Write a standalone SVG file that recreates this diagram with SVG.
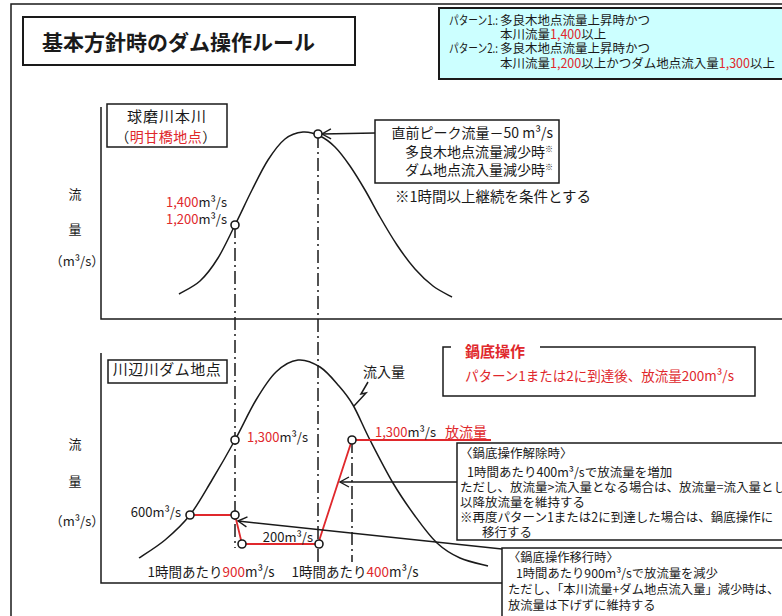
<svg xmlns="http://www.w3.org/2000/svg" width="782" height="616" viewBox="0 0 782 616">
<style>
text{font-family:"Noto Sans CJK JP","Noto Sans",sans-serif;fill:#1a1a1a}
.r{fill:#e0282c}
.t13{font-size:13px}
.t14{font-size:14px}
.t12{font-size:12.5px}
.ln{fill:none;stroke:#1a1a1a;stroke-width:1.5}
.dd{fill:none;stroke:#1a1a1a;stroke-width:1.5;stroke-dasharray:13,4,2,4}
.red{fill:none;stroke:#e0282c;stroke-width:1.8}
.pt{fill:#fff;stroke:#1a1a1a;stroke-width:1.6}
.box{fill:#fff;stroke:#1a1a1a;stroke-width:1.5}
.sup{font-size:8px}
</style>
<defs>
<marker id="ah" markerUnits="userSpaceOnUse" markerWidth="12" markerHeight="12" refX="10" refY="6" orient="auto">
<path d="M1,1 L10,6 L1,11" fill="none" stroke="#1a1a1a" stroke-width="1.4"/>
</marker>
</defs>
<rect x="0" y="0" width="782" height="616" fill="#fff"/>
<g id="frame">
<rect x="11" y="4" width="800" height="640" fill="none" stroke="#1a1a1a" stroke-width="1.5"/>
</g>
<g id="title">
<rect x="23" y="17" width="332" height="48" fill="#fff" stroke="#1a1a1a" stroke-width="2"/>
<text x="42" y="50" style="font-size:21px;font-weight:bold">基本方針時のダム操作ルール</text>
</g>
<g id="patterns">
<rect x="439" y="8" width="360" height="71" fill="#ccffff" stroke="#1a1a1a" stroke-width="2"/>
<text class="t12"><tspan x="449" y="24.5" textLength="49" lengthAdjust="spacingAndGlyphs">パターン1.:</tspan><tspan x="500" y="24.5">多良木地点流量上昇時かつ</tspan><tspan x="500" y="38.5">本川流量</tspan><tspan class="r">1,400</tspan><tspan>以上</tspan><tspan x="449" y="52.5" textLength="49" lengthAdjust="spacingAndGlyphs">パターン2.:</tspan><tspan x="500" y="52.5">多良木地点流量上昇時かつ</tspan><tspan x="500" y="67.5">本川流量</tspan><tspan class="r">1,200</tspan><tspan>以上かつダム地点流入量</tspan><tspan class="r">1,300</tspan><tspan>以上</tspan></text>
</g>
<g id="axes">
<path class="ln" d="M101,107 L101,319 L782,319"/>
<path class="ln" d="M101,353 L101,583 L505,583"/>
<text class="t13" x="75" y="199" text-anchor="middle">流</text>
<text class="t13" x="75" y="234" text-anchor="middle">量</text>
<text class="t13" x="77" y="266" text-anchor="middle">（m³/s）</text>
<text class="t13" x="75" y="449" text-anchor="middle">流</text>
<text class="t13" x="75" y="486" text-anchor="middle">量</text>
<text class="t13" x="77" y="526" text-anchor="middle">（m³/s）</text>
</g>
<g id="label-top">
<rect x="107" y="104" width="120" height="43" class="box"/>
<text x="167" y="122" text-anchor="middle" style="font-size:15px;letter-spacing:1px">球磨川本川</text>
<text x="166" y="142" text-anchor="middle" style="font-size:14px;letter-spacing:0.5px">（<tspan class="r">明甘橋地点</tspan>）</text>
</g>
<g id="label-bottom">
<rect x="108" y="360" width="119" height="23" class="box"/>
<text x="167" y="375" text-anchor="middle" style="font-size:15px;letter-spacing:0.5px">川辺川ダム地点</text>
</g>
<g id="connectors">
<path class="dd" d="M235,225 L235,548"/>
<path class="dd" d="M318,135 L318,562"/>
<path class="dd" d="M352,440 L352,562"/>
<path class="ln" d="M179,294 C182.5,291.8 193.5,287 200,281 C206.5,275 212.2,267.3 218,258 C223.8,248.7 229.3,236.3 235,225 C240.7,213.7 246.5,200.8 252,190 C257.5,179.2 262.5,168.5 268,160 C273.5,151.5 279.2,143.7 285,139 C290.8,134.3 297.2,132.5 303,132 C308.8,131.5 314.7,133.5 320,136 C325.3,138.5 330,142 335,147 C340,152 345,158.8 350,166 C355,173.2 360,181.5 365,190 C370,198.5 374.7,207.8 380,217 C385.3,226.2 391.2,236.3 397,245 C402.8,253.7 409,262.2 415,269 C421,275.8 426.8,281.3 433,286 C439.2,290.7 448.8,295.2 452,297"/>
<path class="ln" d="M139,558 C143.3,555 156.5,547.2 165,540 C173.5,532.8 182.2,525 190,515 C197.8,505 204.5,492.5 212,480 C219.5,467.5 227.7,453.3 235,440 C242.3,426.7 249.2,411.3 256,400 C262.8,388.7 269,378.7 276,372 C283,365.3 290.7,360.8 298,360 C305.3,359.2 313.2,362.7 320,367 C326.8,371.3 333.5,379.7 339,386 C344.5,392.3 347.8,396 353,405 C358.2,414 363.3,427 370,440 C376.7,453 385.5,470.3 393,483 C400.5,495.7 407.7,506 415,516 C422.3,526 429.5,536 437,543 C444.5,550 451.5,554.2 460,558 C468.5,561.8 483.3,564.7 488,566"/>
<path class="ln" d="M368,382 L361,394 L366,393 L354,406" stroke-width="1.3"/>
<path class="red" d="M190,515 L235,515 L242,544 L318,544 L352,440 L491,440"/>
<line class="ln" x1="375" y1="133" x2="322" y2="134" marker-end="url(#ah)"/>
<line class="ln" x1="457" y1="482" x2="340" y2="482" marker-end="url(#ah)"/>
<line class="ln" x1="502" y1="549" x2="238" y2="521" marker-end="url(#ah)"/>
</g>
<g id="points">
<circle class="pt" cx="318" cy="134" r="4"/>
<circle class="pt" cx="235" cy="225" r="4"/>
<circle class="pt" cx="235" cy="440" r="4"/>
<circle class="pt" cx="190" cy="515" r="4"/>
<circle class="pt" cx="235" cy="515" r="4"/>
<circle class="pt" cx="242" cy="544" r="4"/>
<circle class="pt" cx="319" cy="544" r="4"/>
<circle class="pt" cx="352" cy="440" r="4"/>
</g>
<g id="values">
<text class="t13" x="227" y="207" text-anchor="end"><tspan class="r">1,400</tspan>m³/s</text>
<text class="t13" x="227" y="224" text-anchor="end"><tspan class="r">1,200</tspan>m³/s</text>
<text class="t13" x="247" y="442"><tspan class="r">1,300</tspan>m³/s</text>
<text class="t13" x="375" y="437"><tspan class="r">1,300</tspan>m³/s</text>
<text class="t14 r" x="445" y="437">放流量</text>
<text class="t13" x="181" y="517" text-anchor="end">600m³/s</text>
<text class="t13" x="313" y="542" text-anchor="end">200m³/s</text>
<text class="t14" x="384" y="377" text-anchor="middle">流入量</text>
<text x="211" y="577" text-anchor="middle" style="font-size:13.5px">1時間あたり<tspan class="r">900</tspan>m³/s</text>
<text x="355" y="577" text-anchor="middle" style="font-size:13.5px">1時間あたり<tspan class="r">400</tspan>m³/s</text>
</g>
<g id="peak-note">
<rect x="375" y="120" width="184" height="63" class="box"/>
<text class="t14" text-anchor="end"><tspan x="553" y="138">直前ピーク流量－50 m³/s</tspan><tspan x="553" y="157">多良木地点流量減少時<tspan class="sup" dy="-5">※</tspan></tspan><tspan x="553" y="175">ダム地点流入量減少時<tspan class="sup" dy="-5">※</tspan></tspan></text>
<text x="395" y="202" style="font-size:14.5px">※1時間以上継続を条件とする</text>
</g>
<g id="nabezoko">
<path class="ln" d="M451,347 L443,347 L443,396 L755,396 L755,347 L540,347"/>
<text x="465" y="357" class="r" style="font-size:15px;font-weight:bold">鍋底操作</text>
<text x="465" y="381" class="r" style="font-size:13.5px">パターン1または2に到達後、放流量200m³/s</text>
</g>
<g id="release-note">
<rect x="457" y="443" width="340" height="97" class="box"/>
<text class="t12"><tspan x="460" y="458">〈鍋底操作解除時〉</tspan><tspan x="467" y="477">1時間あたり400m³/sで放流量を増加</tspan><tspan x="460" y="492">ただし、放流量&gt;流入量となる場合は、放流量=流入量とし、</tspan><tspan x="460" y="507">以降放流量を維持する</tspan><tspan x="460" y="522">※再度パターン1または2に到達した場合は、鍋底操作に</tspan><tspan x="482" y="537">移行する</tspan></text>
</g>
<g id="transition-note">
<rect x="502" y="548" width="300" height="80" class="box"/>
<text style="font-size:12.3px"><tspan x="508" y="562">〈鍋底操作移行時〉</tspan><tspan x="516" y="578">1時間あたり900m³/sで放流量を減少</tspan><tspan x="508" y="594">ただし、「本川流量+ダム地点流入量」減少時は、</tspan><tspan x="508" y="610">放流量は下げずに維持する</tspan></text>
</g>
</svg>
